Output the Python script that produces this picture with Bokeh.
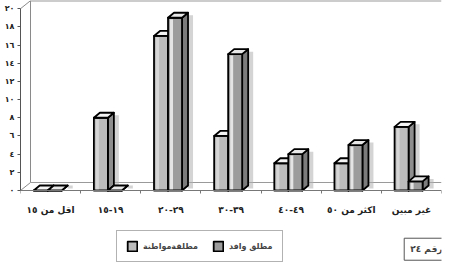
import numpy as np
from bokeh.plotting import figure
from bokeh.models import Range1d, FixedTicker, Legend, LegendItem, Label
from bokeh.embed import file_html
from bokeh.resources import INLINE

# ---- data ----
categories = ["اقل من ١٥", "١٥\u200e-\u200e١٩", "٢٠\u200e-\u200e٢٩", "٣٠\u200e-\u200e٣٩",
              "٤٠\u200e-\u200e٤٩", "اكثر من ٥٠", "غير مبين"]
citizen = [0, 8, 17, 6, 3, 3, 7]      # مطلقةمواطنة
expat = [0, 0, 19, 15, 4, 5, 1]       # مطلق وافد
series_names = ["مطلقةمواطنة", "مطلق وافد"]
y_ticks = [0, 2, 4, 6, 8, 10, 12, 14, 16, 18, 20]
y_tick_labels = ["٠", "٢", "٤", "٦", "٨", "١٠", "١٢", "١٤", "١٦", "١٨", "٢٠"]
caption = "رقم ٢٤"

# ---- layout / style ----
W, H = 443, 262
BL, BR = 20, 2
PLOT_H = 190          # pixels from top of figure to the zero line
Y_MAX = 20.9
FONT = "DejaVu Sans"

px_y = PLOT_H / Y_MAX
y_start = -(H - PLOT_H) / px_y

p = figure(width=W, height=H, output_backend="svg", toolbar_location=None,
           x_range=Range1d(-0.5, len(categories) - 0.5), y_range=Range1d(y_start, Y_MAX),
           min_border_left=BL, min_border_right=BR, min_border_top=0, min_border_bottom=0)
p.grid.visible = False
p.outline_line_color = None
p.background_fill_color = "white"
p.border_fill_color = "white"

px_x = (W - BL - BR) / len(categories)
dx = 6 / px_x     # bar depth
dy = 5 / px_y
wdx = 10 / px_x   # wall depth
wdy = 8 / px_y
bw = 14 / px_x    # bar width

x0r = -0.5
x1r = len(categories) - 0.5

# back wall / floor
p.line([x0r + wdx, x0r + wdx], [wdy, 20 + wdy], line_color="#8a8a8a", line_width=1)
p.line([x0r + wdx, x1r], [20 + wdy, 20 + wdy], line_color="#9a9a9a", line_width=1.5)
p.line([x0r, x0r + wdx], [20, 20 + wdy], line_color="#8a8a8a", line_width=1)
p.line([x0r, x0r + wdx], [0, wdy], line_color="#8a8a8a", line_width=1)
p.line([x0r + wdx, x1r], [wdy, wdy], line_color="#9a9a9a", line_width=1)

idx = np.arange(len(categories))
series = [np.array(citizen, float), np.array(expat, float)]
front_cols = ["#bcbcbc", "#9c9c9c"]
strip_cols = ["#d6d6d6", "#e4e4e4"]
top_cols = ["#f4f4f4", "#e8e8e8"]
side_cols = ["#8e8e8e", "#7c7c7c"]

# shadows
for s, vals in enumerate(series):
    xl = idx - 0.28 + s * bw
    xr = xl + bw
    sx0 = xr + dx
    p.quad(left=sx0, right=sx0 + 5 / px_x, bottom=np.full_like(vals, 0.0) + dy * 0.4,
           top=np.maximum(vals + dy * 0.5, dy), fill_color="#b0b0b0", fill_alpha=0.55,
           line_color=None)

renderers = []
for s, vals in enumerate(series):
    xl = idx - 0.28 + s * bw
    xr = xl + bw
    side_xs = [[a, a + dx, a + dx, a] for a in xr]
    side_ys = [[0, dy, v + dy, v] for v in vals]
    p.patches(side_xs, side_ys, fill_color=side_cols[s], line_color="black", line_width=1.8,
              line_join="round")
    r = p.quad(left=xl, right=xr, bottom=np.zeros_like(vals), top=vals,
               fill_color=front_cols[s], line_color="black", line_width=1.8, line_join="round")
    renderers.append(r)
    p.quad(left=xl + 2 / px_x, right=xl + 5 / px_x, bottom=np.minimum(vals, 0.15),
           top=np.maximum(vals - 0.15, np.minimum(vals, 0.15)), fill_color=strip_cols[s], line_color=None)
    top_xs = [[a, b, b + dx, a + dx] for a, b in zip(xl, xr)]
    top_ys = [[v, v, v + dy, v + dy] for v in vals]
    p.patches(top_xs, top_ys, fill_color=top_cols[s], line_color="black", line_width=1.8,
              line_join="round")

# axes
p.yaxis.ticker = FixedTicker(ticks=y_ticks)
p.yaxis.major_label_overrides = {t: l for t, l in zip(y_ticks, y_tick_labels)}
p.yaxis.major_label_text_font = FONT
p.yaxis.major_label_text_font_style = "bold"
p.yaxis.major_label_text_font_size = "8px"
p.yaxis.major_label_text_color = "#222"
p.yaxis.major_tick_in = 0
p.yaxis.major_tick_out = 3
p.yaxis.minor_tick_line_color = None
p.yaxis.axis_line_color = "#555"
p.yaxis.major_tick_line_color = "#555"
p.yaxis.major_label_standoff = 3
p.yaxis.bounds = (0, 20)

p.xaxis.fixed_location = 0
p.xaxis.ticker = FixedTicker(ticks=list(idx), minor_ticks=list(np.arange(len(categories) + 1) - 0.5))
p.xaxis.major_label_overrides = {int(i): c for i, c in zip(idx, categories)}
p.xaxis.major_label_text_font = FONT
p.xaxis.major_label_text_font_style = "bold"
p.xaxis.major_label_text_font_size = "9px"
p.xaxis.major_label_text_color = "#222"
p.xaxis.major_tick_line_color = None
p.xaxis.minor_tick_in = 0
p.xaxis.minor_tick_out = 3
p.xaxis.minor_tick_line_color = "#777"
p.xaxis.axis_line_color = "#777"
p.xaxis.major_label_standoff = 8

legend = Legend(items=[LegendItem(label=series_names[0], renderers=[renderers[0]]),
                       LegendItem(label=series_names[1], renderers=[renderers[1]])],
                orientation="horizontal", location=(96, 0),
                label_text_font=FONT, label_text_font_size="8px", label_text_font_style="bold",
                glyph_width=12, glyph_height=12, spacing=14, padding=9, margin=2,
                border_line_color="#666", border_line_width=1, background_fill_color="white",
                label_standoff=5)
p.add_layout(legend)

cap = Label(x=5.88, y=y_start + 0.25, text=caption, padding=6,
            text_font=FONT, text_font_size="9px", text_font_style="bold",
            border_line_color="#555", background_fill_color="white")
p.add_layout(cap)

open("out.html", "w").write(file_html(p, INLINE))
